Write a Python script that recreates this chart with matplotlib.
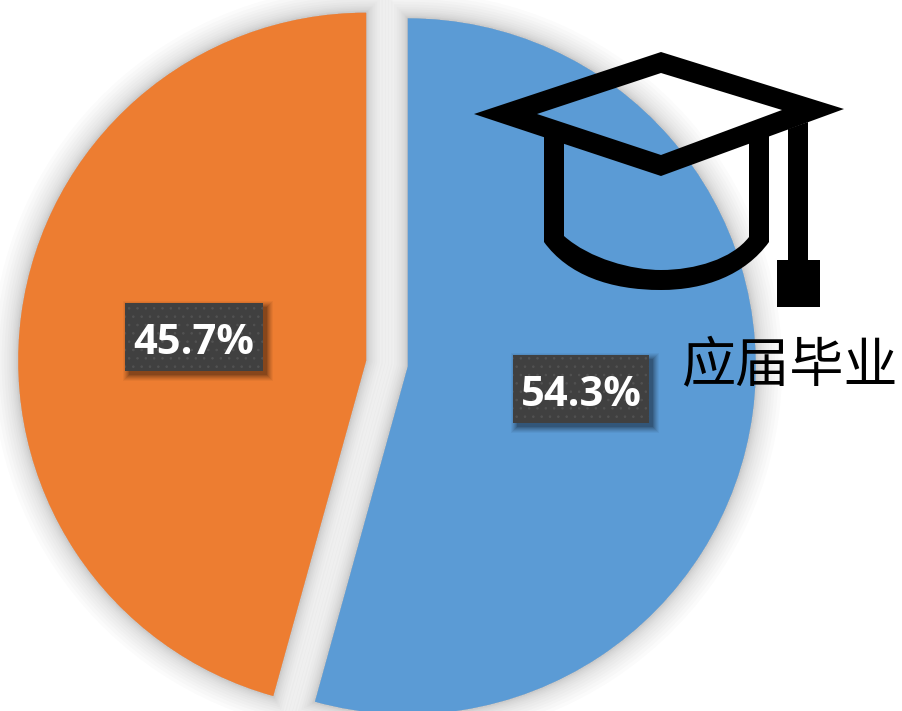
"""Pie of fresh graduates share with a graduation cap icon."""
import matplotlib
matplotlib.use("Agg")
import matplotlib.pyplot as plt
import matplotlib.patheffects as pe
from matplotlib.patches import PathPatch, Rectangle
from matplotlib.path import Path

values = [54.3, 45.7]
colors = ["#5B9BD5", "#ED7D31"]
category = "应届毕业"

W, H = 903, 711


def flip(pts):
    # picture pixels have y going down
    return [(x, H - y) for x, y in pts]


plt.rcParams["font.family"] = ["Open Sans", "DejaVu Sans"]
plt.rcParams["hatch.linewidth"] = 0.6

fig = plt.figure(figsize=(W / 100, H / 100), dpi=100)
ax = fig.add_axes([0, 0, 1, 1])

center = (387, H - 363.5)
radius = 348
explode = [21, 21]

# soft shadow first, real slices on top
shadow, _ = ax.pie(values, startangle=90, counterclock=False, center=center,
                   radius=radius, explode=explode, colors=colors)
effects = [pe.Stroke(linewidth=lw, foreground="black", alpha=0.014)
           for lw in [38, 33, 28, 24, 20, 16, 13, 10, 8, 6, 4, 3, 2]]
for w in shadow:
    w.set_path_effects(effects)
    w.set_zorder(1)

wedges, _ = ax.pie(values, startangle=90, counterclock=False, center=center,
                   radius=radius, explode=explode, colors=colors)
for w in wedges:
    w.set_zorder(2)

ax.set_xlim(0, W)
ax.set_ylim(0, H)
ax.set_aspect("equal")
ax.axis("off")

# value labels
for val, (x0, y0, x1, y1) in zip(values, [(513, 355, 649, 423), (125, 303, 263, 371)]):
    for grow, a in [(6, 0.04), (5, 0.05), (4, 0.06), (3, 0.07), (2, 0.08), (1, 0.1), (0, 0.12)]:
        ax.add_patch(Rectangle((x0 + 4 - grow, H - y1 - 4 - grow), x1 - x0 + 2 * grow, y1 - y0 + 2 * grow,
                               fc="black", ec="none", alpha=a, zorder=3))
    ax.add_patch(Rectangle((x0, H - y1), x1 - x0, y1 - y0, fc="#404040", ec="#525252",
                           hatch="..", lw=0, zorder=4))
    ax.text((x0 + x1) / 2, H - (y0 + y1) / 2 - 1, f"{val}%", color="white", fontsize=30,
            fontweight="bold", ha="center", va="center_baseline", zorder=5)

# graduation cap
M, L, C, Z = Path.MOVETO, Path.LINETO, Path.CURVE4, Path.CLOSEPOLY
board = flip([(474, 114), (661, 52), (844, 109), (661, 176), (474, 114),
              (537, 114), (661, 155), (782, 110), (661, 73), (537, 114)])
board_codes = [M, L, L, L, Z, M, L, L, L, Z]
bucket = flip([(544, 134), (564, 141), (564, 236), (590, 259), (632, 270), (661, 270),
               (695, 270), (732, 259), (749, 237), (749, 141), (769, 134), (769, 242),
               (745, 275), (705, 290), (661, 290), (610, 290), (568, 275), (544, 242), (544, 134)])
bucket_codes = [M, L, L, C, C, C, C, C, C, L, L, L, C, C, C, C, C, C, Z]
tassel = flip([(788, 129), (808, 122), (808, 260), (820, 260), (820, 307),
               (777, 307), (777, 260), (788, 260), (788, 129)])
tassel_codes = [M, L, L, L, L, L, L, L, Z]
for pts, codes in [(board, board_codes), (bucket, bucket_codes), (tassel, tassel_codes)]:
    ax.add_patch(PathPatch(Path(pts, codes), fc="black", ec="none", zorder=6))

ax.text(789, H - 367, category, fontsize=39, color="black", ha="center", va="center",
        family=["Noto Sans CJK SC", "DejaVu Sans"], zorder=6)

fig.savefig("out.png", dpi=100)
plt.close(fig)
